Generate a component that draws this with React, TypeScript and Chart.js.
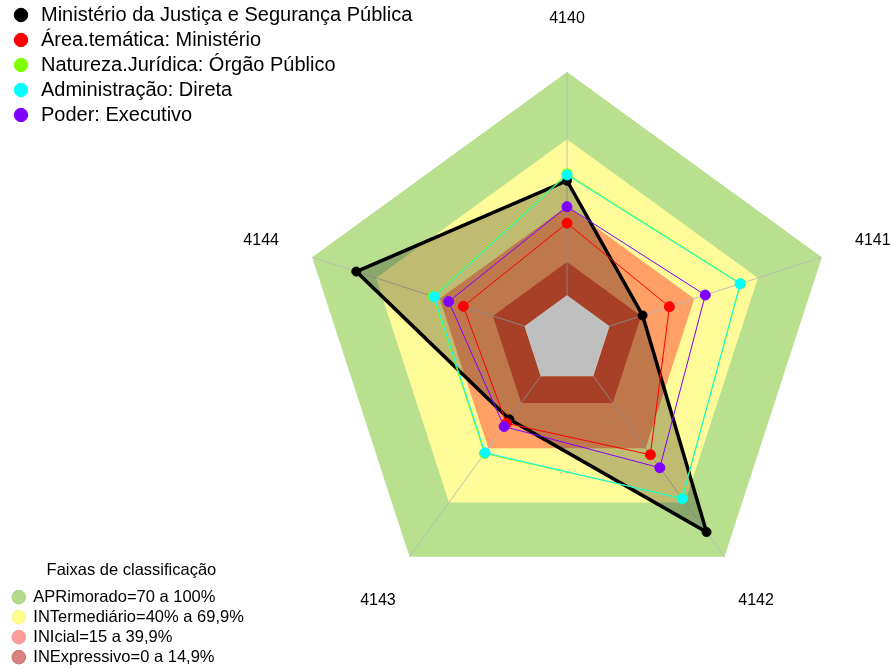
import React, { useEffect, useRef } from 'react';
import { Chart, registerables } from 'chart.js';

Chart.register(...registerables);

// ---------------- data ----------------
const AXES = ['4140', '4141', '4142', '4143', '4144'];

const SERIES_NAMES = [
  'Ministério da Justiça e Segurança Pública',
  'Área.temática: Ministério',
  'Natureza.Jurídica: Órgão Público',
  'Administração: Direta',
  'Poder: Executivo',
];
const MINISTERIO = [51.3, 15.6, 86.3, 23.9, 79.2];
const AREA_TEMATICA = [32.3, 28.2, 43.5, 26.1, 28.8];
const NATUREZA_JURIDICA = [54.4, 61.8, 67.6, 42.8, 43.1];
const ADMINISTRACAO = [53.9, 61.5, 67.8, 42.4, 42.6];
const PODER = [39.7, 45.1, 50.7, 27.9, 35.7];
const SERIES_COLORS = ['#000000', '#ff0000', '#80ff00', '#00ffff', '#8000ff'];

const BAND_TITLE = 'Faixas de classificação';
const BAND_NAMES = [
  'APRimorado=70 a 100%',
  'INTermediário=40% a 69,9%',
  'INIcial=15 a 39,9%',
  'INExpressivo=0 a 14,9%',
];
const BAND_UPPER = [100, 69.9, 39.9, 14.9];
const BAND_FILLS = ['#b8e08f', '#fffb98', '#ffa066', '#e05535'];
const BAND_LEGEND_COLORS = ['#b4da8c', '#ffff8e', '#ff9c9c', '#d98080'];
const BAND_LEGEND_BORDERS = ['#a8d080', '#f4f488', '#f49494', '#c86c6c'];
const CENTER_FILL = '#bfbfbf';

const SCALE_MIN = -20;
const SCALE_MAX = 100;

// ---------------- layout ----------------
const FONT = 'Liberation Sans, Arial, Helvetica, sans-serif';
const CX = 567;
const CY = 340;
const RADIUS = 268;
const LABEL_RADIUS = 1.2;

const axisLinesPlugin = {
  id: 'axisLines',
  afterDatasetDraw(chart: any, args: any) {
    if (args.index !== chart.data.datasets.length - 1) return;
    const s = chart.scales.r;
    const ctx = chart.ctx;
    ctx.save();
    ctx.strokeStyle = 'rgba(185,185,185,0.9)';
    ctx.lineWidth = 1;
    for (let i = 0; i < AXES.length; i++) {
      const a = s.getPointPositionForValue(i, 0);
      const b = s.getPointPositionForValue(i, SCALE_MAX);
      ctx.beginPath();
      ctx.moveTo(a.x, a.y);
      ctx.lineTo(b.x, b.y);
      ctx.stroke();
    }
    ctx.restore();
  },
};

export default function App() {
  const mainRef = useRef<HTMLCanvasElement | null>(null);
  const legRef = useRef<HTMLCanvasElement | null>(null);

  useEffect(() => {
    if (!mainRef.current || !legRef.current) return;
    const seriesData = [MINISTERIO, AREA_TEMATICA, NATUREZA_JURIDICA, ADMINISTRACAO, PODER];

    const datasets: any[] = [
      ...seriesData.map((d, i) => ({
        label: SERIES_NAMES[i],
        data: d,
        borderColor: SERIES_COLORS[i],
        borderWidth: i === 0 ? 3.5 : 1,
        backgroundColor: i === 0 ? 'rgba(0,0,0,0.25)' : 'transparent',
        fill: i === 0 ? 'origin' : false,
        pointRadius: i === 0 ? 4.5 : 5,
        pointBackgroundColor: SERIES_COLORS[i],
        pointBorderColor: SERIES_COLORS[i],
        pointBorderWidth: 1,
        order: 4 - i,
      })),
      ...BAND_UPPER.map((v, i) => ({
        label: BAND_NAMES[i],
        data: AXES.map(() => v),
        backgroundColor: BAND_FILLS[i],
        borderColor: 'transparent',
        borderWidth: 0,
        fill: 'origin',
        pointRadius: 0,
        order: 20 - i,
      })),
      {
        label: 'centro',
        data: AXES.map(() => 0),
        backgroundColor: CENTER_FILL,
        borderColor: 'transparent',
        borderWidth: 0,
        fill: 'start',
        pointRadius: 0,
        order: 10,
      },
    ];

    const main = new Chart(mainRef.current, {
      type: 'radar',
      data: { labels: AXES, datasets },
      options: {
        responsive: false,
        animation: false,
        events: [],
        layout: { padding: { left: 6, top: 0, right: 0, bottom: 0 } },
        elements: { line: { tension: 0 } },
        scales: {
          r: {
            min: SCALE_MIN,
            max: SCALE_MAX,
            grid: { display: false },
            angleLines: { display: false },
            ticks: { display: false },
            pointLabels: {
              display: true,
              padding: 5,
              color: '#000',
              font: { family: FONT, size: 16 },
            },
            afterSetDimensions: (s: any) => {
              s.xCenter = CX;
              s.yCenter = CY;
              s.drawingArea = RADIUS;
            },
            afterFit: (s: any) => {
              const items = s._pointLabelItems;
              if (!items) return;
              items.forEach((it: any, i: number) => {
                const w = it.right - it.left;
                const h = it.bottom - it.top;
                const p = s.getPointPosition(i, s.drawingArea * LABEL_RADIUS);
                it.x = p.x;
                it.textAlign = 'center';
                it.left = p.x - w / 2;
                it.right = p.x + w / 2;
                it.y = p.y - h / 2;
                it.top = it.y;
                it.bottom = it.y + h;
              });
            },
          } as any,
        },
        plugins: {
          tooltip: { enabled: false },
          legend: {
            display: true,
            position: 'chartArea' as any,
            align: 'start',
            fullSize: false,
            labels: {
              usePointStyle: true,
              pointStyle: 'circle',
              boxWidth: 20,
              boxHeight: 9.5,
              padding: 5,
              color: '#000',
              font: { family: FONT, size: 20 },
              filter: (item: any) => item.datasetIndex < SERIES_NAMES.length,
              sort: (a: any, b: any) => a.datasetIndex - b.datasetIndex,
            },
          },
        },
      } as any,
      plugins: [axisLinesPlugin],
    });

    const leg = new Chart(legRef.current, {
      type: 'bar',
      data: {
        labels: [],
        datasets: BAND_NAMES.map((n, i) => ({
          label: n,
          data: [],
          backgroundColor: BAND_LEGEND_COLORS[i],
          borderColor: BAND_LEGEND_BORDERS[i],
          borderWidth: 1,
        })),
      },
      options: {
        responsive: false,
        animation: false,
        events: [],
        layout: { padding: { left: 9, top: 0, right: 0, bottom: 0 } },
        scales: { x: { display: false }, y: { display: false } },
        plugins: {
          tooltip: { enabled: false },
          legend: {
            display: true,
            position: 'chartArea' as any,
            align: 'start',
            fullSize: false,
            title: {
              display: true,
              text: BAND_TITLE,
              color: '#000',
              position: 'center',
              font: { family: FONT, size: 16.5 },
              padding: { top: 0, bottom: 3.6 },
            },
            labels: {
              usePointStyle: true,
              pointStyle: 'circle',
              boxWidth: 12.6,
              boxHeight: 9.6,
              padding: 3.5,
              color: '#000',
              font: { family: FONT, size: 16.5 },
              sort: (a: any, b: any) => a.datasetIndex - b.datasetIndex,
            },
          },
        },
      } as any,
    });

    return () => {
      main.destroy();
      leg.destroy();
    };
  }, []);

  return (
    <div
      style={{
        position: 'absolute',
        left: 0,
        top: 0,
        width: 892,
        height: 668,
        overflow: 'hidden',
        background: '#ffffff',
      }}
    >
      <canvas ref={mainRef} width={892} height={668} style={{ position: 'absolute', left: 0, top: 0 }} />
      <canvas ref={legRef} width={300} height={130} style={{ position: 'absolute', left: 0, top: 562 }} />
    </div>
  );
}
